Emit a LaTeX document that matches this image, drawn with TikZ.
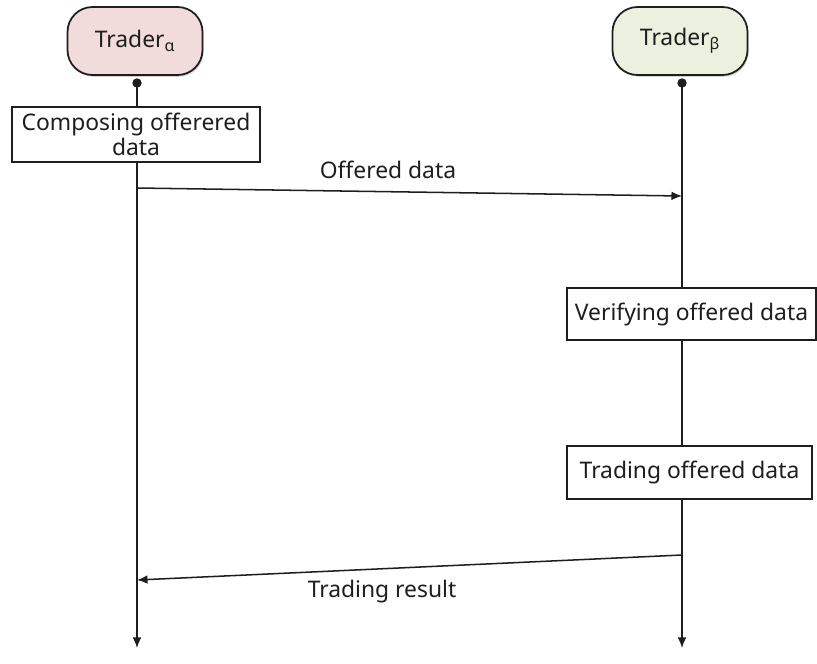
\documentclass[tikz,border=0pt]{standalone}
\usepackage{fontspec}
\setmainfont{Noto Sans}
\usepackage{tikz}
\usetikzlibrary{positioning,arrows.meta,shadows}
\definecolor{alphafill}{RGB}{242,220,219}
\definecolor{betafill}{RGB}{235,241,222}
\definecolor{inkgray}{RGB}{30,30,30}
\begin{document}
\begin{tikzpicture}[x=0.03cm,y=-0.03cm,>={Latex[length=9pt,width=7.5pt]},font=\fontsize{19.5}{22}\selectfont,line width=1.3pt,draw=inkgray,text=inkgray,
    actor/.style={draw,line width=1.5pt,rounded corners=0.75cm,minimum width=4.05cm,minimum height=2.04cm,drop shadow={opacity=0.35,shadow xshift=1pt,shadow yshift=-1.5pt}},
    actbox/.style={draw,line width=1pt,fill=white,align=center,inner sep=2pt}]
        \useasboundingbox (0,0) rectangle (817,663);
        \node [actor,fill=alphafill] (TraderA) at (135,41) {Trader\textsubscript{α}};
        \node [actor,fill=betafill] (TraderB) at (680,41) {Trader\textsubscript{β}};
        % lifelines
        \coordinate (topA) at (137,83);
        \coordinate (topB) at (682,83);
        \coordinate (endA) at (137,648);
        \coordinate (endB) at (682,648);
        \draw [->] (topA) -- (endA);
        \draw [->] (topB) -- (endB);
        \fill [inkgray] (topA) circle (4pt);
        \fill [inkgray] (topB) circle (4pt);
        % activities
        \node [actbox,minimum width=7.44cm,minimum height=1.65cm] (Compose) at (136,134.5) {Composing offerered\\[-1pt]data};
        \node [actbox,minimum width=7.47cm,minimum height=1.56cm] (Verify) at (691.5,314) {Verifying offered data};
        \node [actbox,minimum width=7.35cm,minimum height=1.59cm] (Trade) at (689.5,472.5) {Trading offered data};
        % messages
        \coordinate (offerOut) at (137,188);
        \coordinate (offerIn) at (682,196);
        \coordinate (resultOut) at (682,555);
        \coordinate (resultIn) at (137,580);
        \draw [->] (offerOut) -- (offerIn);
        \draw [->] (resultOut) -- (resultIn);
        \node (OfferLabel) at (388,170) {Offered data};
        \node (ResultLabel) at (382,592) {Trading result};
    \end{tikzpicture}
\end{document}
